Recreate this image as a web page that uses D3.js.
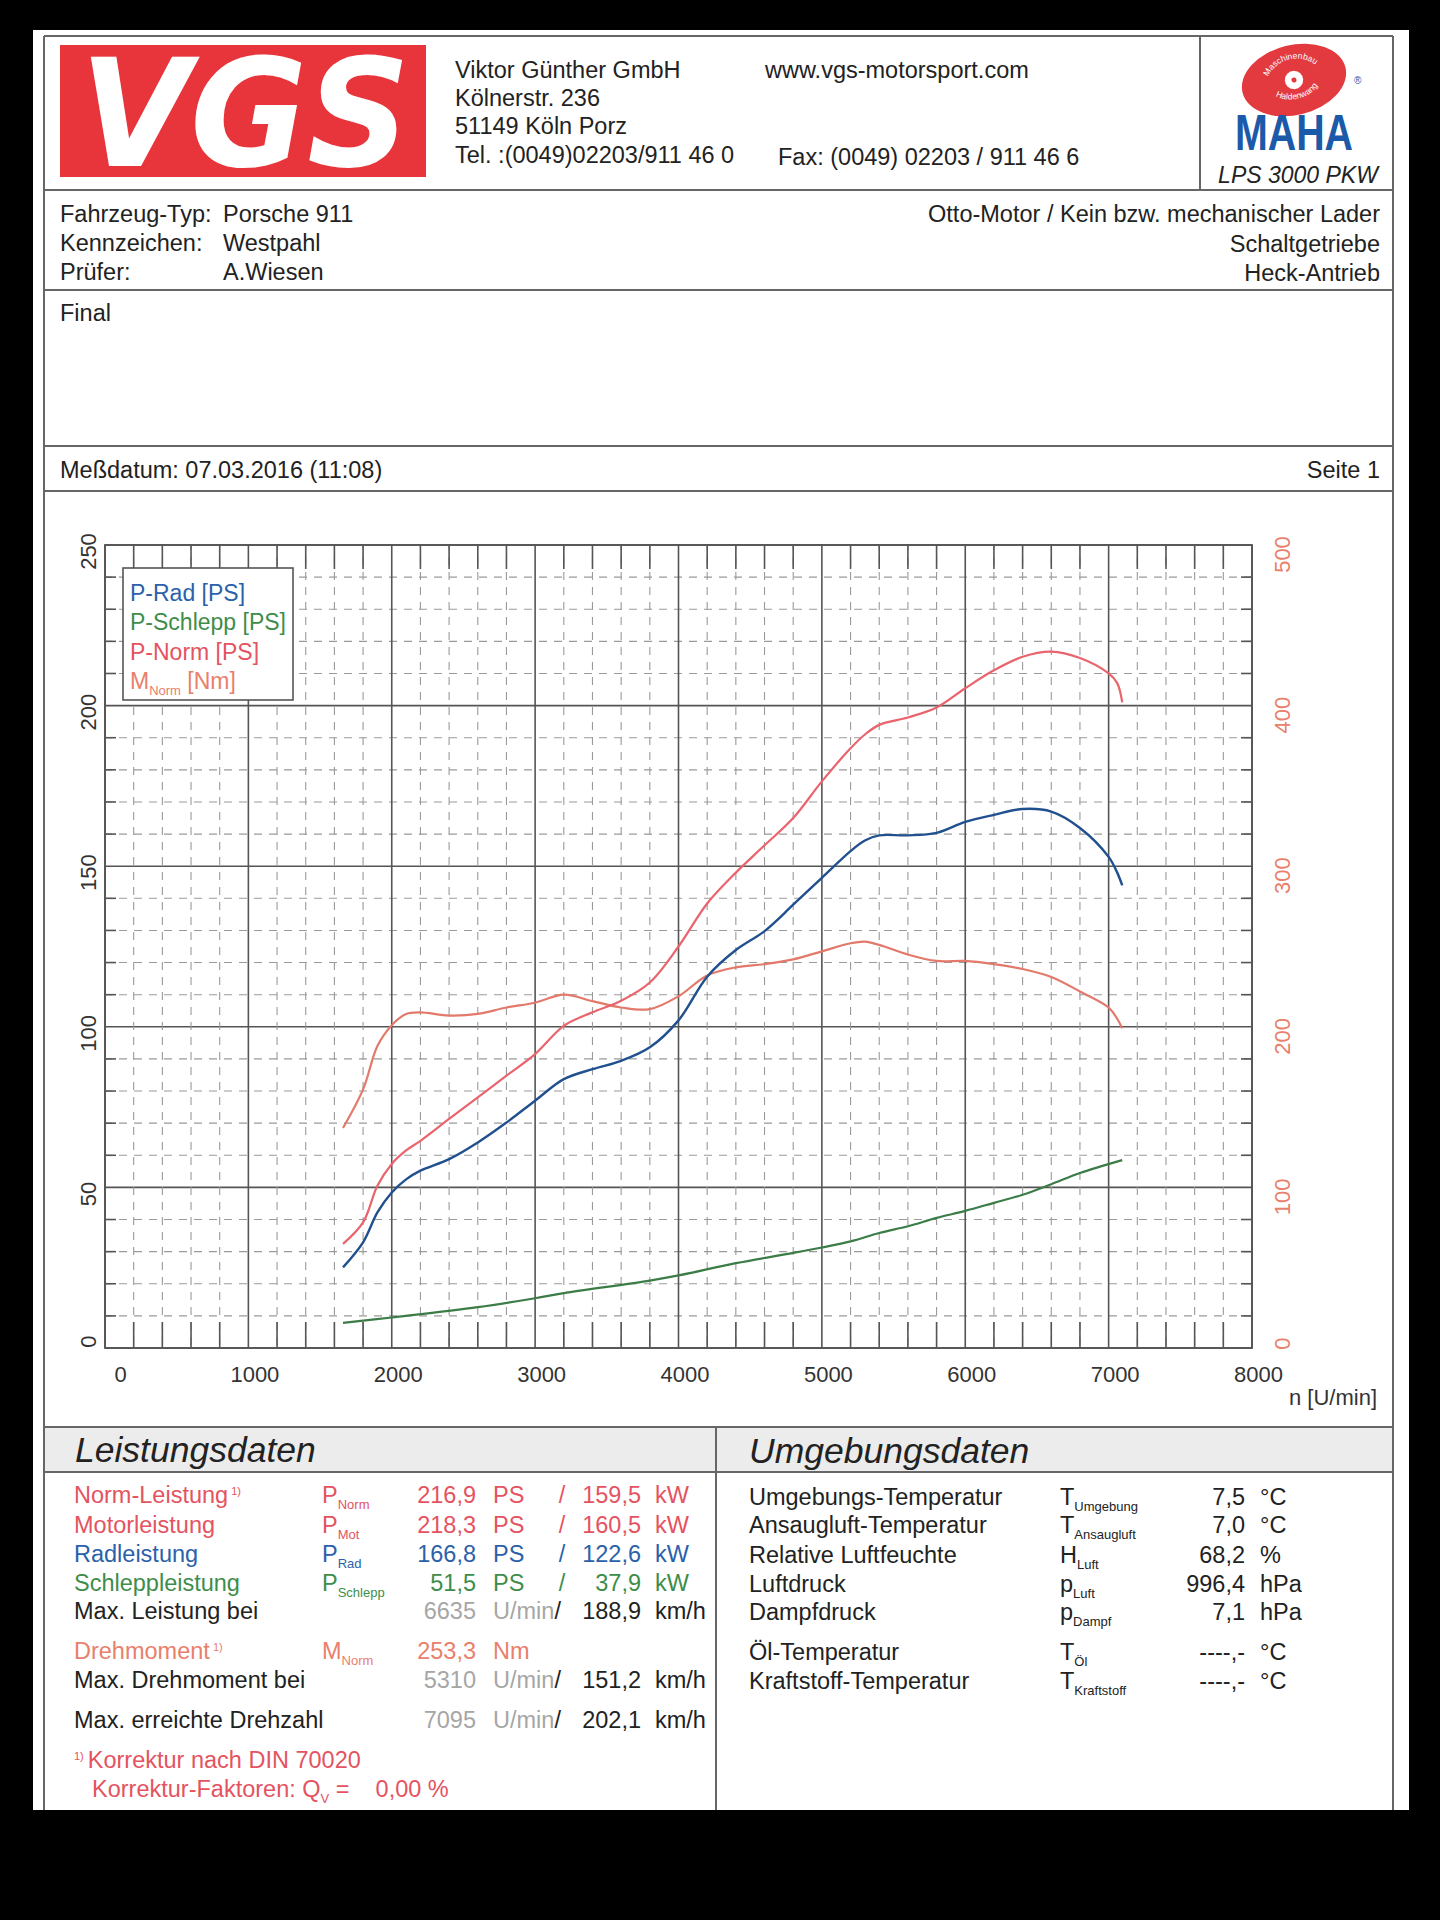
<!DOCTYPE html>
<html><head><meta charset="utf-8">
<script src="https://cdn.jsdelivr.net/npm/d3@7"></script>
<style>
body{margin:0;background:#000}
svg{display:block}
text{font-family:"Liberation Sans",Arial,Helvetica,sans-serif}
</style>
</head><body>
<svg id="c" width="1440" height="1920"></svg>
<script>
// ---------------- DATA ----------------
const rpm   = [1660,1800,1900,2000,2100,2200,2400,2600,2800,3000,3200,3400,3600,3800,4000,4200,4400,4600,4800,5000,5200,5300,5400,5600,5800,6000,6200,6400,6600,6800,7000,7060,7095];
const pRad  = [25.1,32.9,42.2,48.4,52.5,55.2,58.8,64.0,70.2,77.0,83.7,86.8,89.4,93.6,102.0,115.6,123.9,129.8,138.0,146.4,154.7,158.0,159.6,159.6,160.4,163.8,166.0,167.8,167.0,161.9,152.9,148.0,144.0];
const pNorm = [32.4,39.1,50.5,57.3,61.5,64.5,71.3,78.0,84.8,91.5,100.3,104.5,108.1,113.8,125.0,138.4,148.0,156.5,165.0,176.4,186.7,191.0,194.0,196.3,199.4,205.4,211.0,215.2,216.8,214.8,210.0,207.0,201.0];
const mNorm = [137,161,188,201,208,209,207,208,212,215,220,216,212,211,219,232,237,239,242,247,252,253,251,245,241,241,239,236,231,222,212,205,199];
const rpmSchlepp = [1660,2000,2600,3000,3200,3800,4000,4400,4800,5000,5200,5400,5600,5800,6000,6200,6400,6600,6800,7095];
const pSchlepp   = [7.8,9.5,12.7,15.5,17.1,21.0,22.6,26.4,29.6,31.3,33.2,35.8,37.9,40.5,42.7,45.2,47.7,51.0,54.5,58.5];

const xTickValues  = [0,1000,2000,3000,4000,5000,6000,7000,8000];
const yLeftTicks   = [0,50,100,150,200,250];
const yRightTicks  = [0,100,200,300,400,500];
const legendNames  = ["P-Rad [PS]","P-Schlepp [PS]","P-Norm [PS]","M"];

const perfLabels  = ["Norm-Leistung","Motorleistung","Radleistung","Schleppleistung"];
const perfSubs    = ["Norm","Mot","Rad","Schlepp"];
const perfPS      = ["216,9","218,3","166,8","51,5"];
const perfKW      = ["159,5","160,5","122,6","37,9"];
const envLabels   = ["Umgebungs-Temperatur","Ansaugluft-Temperatur","Relative Luftfeuchte","Luftdruck","Dampfdruck","Öl-Temperatur","Kraftstoff-Temperatur"];
const envSymbols  = ["T","T","H","p","p","T","T"];
const envSubs     = ["Umgebung","Ansaugluft","Luft","Luft","Dampf","Öl","Kraftstoff"];
const envValues   = ["7,5","7,0","68,2","996,4","7,1","----,-","----,-"];
const envUnits    = ["°C","°C","%","hPa","hPa","°C","°C"];

// ---------------- COLORS ----------------
const C = {
  red:"#e4535f", blue:"#2b61aa", green:"#3e8d4b", salmon:"#e8806c", gray:"#a6a6a6", ink:"#222",
  lineBlue:"#21508f", lineRed:"#e9646c", lineSalmon:"#e2796a", lineGreen:"#3b7c47",
  grid:"#555", dash:"#9a9a9a", border:"#666"
};
const FS = 23.5;

const svg = d3.select("#c");
// page
svg.append("rect").attr("x",0).attr("y",0).attr("width",1440).attr("height",1920).attr("fill","#000");
svg.append("rect").attr("x",33).attr("y",30).attr("width",1376).attr("height",1780).attr("fill","#fff");

// frame lines
const frame = svg.append("g").attr("stroke",C.border).attr("stroke-width",2).attr("fill","none");
frame.append("line").attr("x1",44).attr("x2",44).attr("y1",36).attr("y2",1810);
frame.append("line").attr("x1",1393).attr("x2",1393).attr("y1",36).attr("y2",1810);
[36,190,290,446,491].forEach(y=>frame.append("line").attr("x1",44).attr("x2",1393).attr("y1",y).attr("y2",y));
frame.append("line").attr("x1",1200).attr("x2",1200).attr("y1",36).attr("y2",190);

function txt(x,y,s,opt={}){
  return svg.append("text").attr("x",x).attr("y",y).text(s)
    .attr("font-size",opt.size||FS).attr("fill",opt.color||C.ink)
    .attr("text-anchor",opt.anchor||"start")
    .attr("font-style",opt.italic?"italic":"normal")
    .attr("font-weight",opt.bold?"bold":"normal");
}
function symSub(x,y,main,sub,color){
  const t = svg.append("text").attr("x",x).attr("y",y).attr("font-size",FS).attr("fill",color);
  t.append("tspan").text(main);
  t.append("tspan").attr("font-size",13).attr("dy",6).text(sub);
  return t;
}

// ---------------- HEADER ----------------
// VGS logo
svg.append("rect").attr("x",60).attr("y",45).attr("width",366).attr("height",132).attr("fill","#e8353b");
svg.append("text").attr("x",80).attr("y",166).text("VGS")
  .attr("font-size",150).attr("font-weight","bold").attr("font-style","italic")
  .attr("fill","#fff").attr("textLength",330).attr("lengthAdjust","spacingAndGlyphs")
  .style("font-family","'DejaVu Sans',sans-serif");

txt(455,78,"Viktor Günther GmbH");
txt(455,106,"Kölnerstr. 236");
txt(455,134,"51149 Köln Porz");
txt(455,163,"Tel. :(0049)02203/911 46 0");
txt(765,78,"www.vgs-motorsport.com");
txt(778,165,"Fax: (0049) 02203 / 911 46 6");

// MAHA logo
const maha = svg.append("g");
maha.append("ellipse").attr("cx",1294).attr("cy",80).attr("rx",53).attr("ry",35)
  .attr("transform","rotate(-14,1294,80)").attr("fill","#e23a3f");
const em = maha.append("g").attr("transform","rotate(-14,1294,80)");
em.append("path").attr("id","arcTop").attr("d","M1265,84 A29,25 0 0 1 1323,84").attr("fill","none");
em.append("path").attr("id","arcBot").attr("d","M1266,78 A28,21 0 0 0 1322,78").attr("fill","none");
em.append("text").attr("font-size",8.5).attr("fill","#fff").append("textPath").attr("href","#arcTop").attr("startOffset","50%").attr("text-anchor","middle").text("Maschinenbau");
em.append("text").attr("font-size",8.5).attr("fill","#fff").append("textPath").attr("href","#arcBot").attr("startOffset","50%").attr("text-anchor","middle").text("Haldenwang");
em.append("circle").attr("cx",1294).attr("cy",80).attr("r",6).attr("fill","#fff");
d3.range(8).forEach(i=>em.append("rect").attr("x",1292).attr("y",71).attr("width",4).attr("height",18)
  .attr("fill","#fff").attr("transform",`rotate(${i*22.5},1294,80)`));
em.append("circle").attr("cx",1294).attr("cy",80).attr("r",2.5).attr("fill","#e23a3f");
maha.append("text").attr("x",1294).attr("y",150).attr("text-anchor","middle").text("MAHA")
  .attr("font-size",50).attr("font-weight","bold").attr("fill","#1b5aa9")
  .attr("textLength",118).attr("lengthAdjust","spacingAndGlyphs");
maha.append("text").attr("x",1354).attr("y",84).attr("font-size",10).attr("fill","#1b5aa9").text("®");
txt(1298,183,"LPS 3000 PKW",{anchor:"middle",italic:true,size:23});

// vehicle rows
txt(60,222,"Fahrzeug-Typ:"); txt(223,222,"Porsche 911");
txt(60,251,"Kennzeichen:");  txt(223,251,"Westpahl");
txt(60,280,"Prüfer:");       txt(223,280,"A.Wiesen");
txt(1380,222,"Otto-Motor / Kein bzw. mechanischer Lader",{anchor:"end"});
txt(1380,252,"Schaltgetriebe",{anchor:"end"});
txt(1380,281,"Heck-Antrieb",{anchor:"end"});
txt(60,321,"Final");
txt(60,478,"Meßdatum: 07.03.2016 (11:08)");
txt(1380,478,"Seite 1",{anchor:"end"});

// ---------------- CHART ----------------
const X0=105, X1=1252, Y0=1348, Y1=545;
const x  = d3.scaleLinear().domain([0,8000]).range([X0,X1]);
const y  = d3.scaleLinear().domain([0,250]).range([Y0,Y1]);
const yR = d3.scaleLinear().domain([0,500]).range([Y0,Y1]);

const grid = svg.append("g");
// horizontal grid (every 10 PS)
d3.range(0,251,10).forEach(v=>{
  const yy = y(v);
  if(v%50===0){
    grid.append("line").attr("x1",X0).attr("x2",X1).attr("y1",yy).attr("y2",yy).attr("stroke",C.grid).attr("stroke-width",1.6);
  } else {
    grid.append("line").attr("x1",X0).attr("x2",X1).attr("y1",yy).attr("y2",yy).attr("stroke",C.dash).attr("stroke-width",1.1).attr("stroke-dasharray","8,7").attr("stroke-dashoffset",-14);
    grid.append("line").attr("x1",X0).attr("x2",X0+11).attr("y1",yy).attr("y2",yy).attr("stroke",C.grid).attr("stroke-width",1.6);
    grid.append("line").attr("x1",X1-11).attr("x2",X1).attr("y1",yy).attr("y2",yy).attr("stroke",C.grid).attr("stroke-width",1.6);
  }
});
// vertical grid (every 200 rpm)
d3.range(0,8001,200).forEach(v=>{
  const xx = x(v);
  if(v%1000===0){
    grid.append("line").attr("x1",xx).attr("x2",xx).attr("y1",Y1).attr("y2",Y0).attr("stroke",C.grid).attr("stroke-width",1.6);
  } else {
    grid.append("line").attr("x1",xx).attr("x2",xx).attr("y1",Y1).attr("y2",Y0).attr("stroke",C.dash).attr("stroke-width",1.1).attr("stroke-dasharray","8,7").attr("stroke-dashoffset",-12);
    grid.append("line").attr("x1",xx).attr("x2",xx).attr("y1",Y1).attr("y2",Y1+24).attr("stroke",C.grid).attr("stroke-width",1.6);
    grid.append("line").attr("x1",xx).attr("x2",xx).attr("y1",Y0-26).attr("y2",Y0).attr("stroke",C.grid).attr("stroke-width",1.6);
  }
});
grid.append("rect").attr("x",X0).attr("y",Y1).attr("width",X1-X0).attr("height",Y0-Y1)
  .attr("fill","none").attr("stroke",C.grid).attr("stroke-width",1.8);

// axes (labels only)
const axB = svg.append("g").attr("transform",`translate(0,${Y0})`)
  .call(d3.axisBottom(x).tickValues(xTickValues).tickSize(0).tickFormat(d3.format("d")));
axB.select(".domain").remove();
axB.selectAll("text").attr("font-size",22).attr("fill","#333").attr("y",26).attr("dy","0.35em")
  .attr("x",d=>d===0?15:6).style("font-family","'Liberation Sans',Arial,sans-serif");

const axL = svg.append("g").attr("transform",`translate(${X0},0)`)
  .call(d3.axisLeft(y).tickValues(yLeftTicks).tickSize(0));
axL.select(".domain").remove();
axL.selectAll("text").attr("font-size",22).attr("fill","#333")
  .attr("transform","rotate(-90)").attr("text-anchor","middle")
  .attr("x",d=>d===0?7:-6).attr("y",-17).attr("dy","0.35em")
  .style("font-family","'Liberation Sans',Arial,sans-serif");

const axR = svg.append("g").attr("transform",`translate(${X1},0)`)
  .call(d3.axisRight(yR).tickValues(yRightTicks).tickSize(0));
axR.select(".domain").remove();
axR.selectAll("text").attr("font-size",22).attr("fill",C.salmon)
  .attr("transform","rotate(-90)").attr("text-anchor","middle")
  .attr("x",d=>d===0?5:-9).attr("y",30).attr("dy","0.35em")
  .style("font-family","'Liberation Sans',Arial,sans-serif");

txt(1377,1405,"n [U/min]",{anchor:"end",size:22,color:"#333"});

// curves
const curve = d3.curveCatmullRom.alpha(0.5);
const lineL = d3.line().x(d=>x(d[0])).y(d=>y(d[1])).curve(curve);
const lineR = d3.line().x(d=>x(d[0])).y(d=>yR(d[1])).curve(curve);
const plot = svg.append("g");
plot.append("path").attr("d",lineL(d3.zip(rpmSchlepp,pSchlepp))).attr("fill","none").attr("stroke",C.lineGreen).attr("stroke-width",2.2);
plot.append("path").attr("d",lineR(d3.zip(rpm,mNorm))).attr("fill","none").attr("stroke",C.lineSalmon).attr("stroke-width",2.2);
plot.append("path").attr("d",lineL(d3.zip(rpm,pNorm))).attr("fill","none").attr("stroke",C.lineRed).attr("stroke-width",2.2);
plot.append("path").attr("d",lineL(d3.zip(rpm,pRad))).attr("fill","none").attr("stroke",C.lineBlue).attr("stroke-width",2.4);

// legend
svg.append("rect").attr("x",123).attr("y",568).attr("width",170).attr("height",132)
  .attr("fill","#fff").attr("stroke","#555").attr("stroke-width",1.6);
const legColors=[C.blue,C.green,C.red,C.salmon];
legendNames.forEach((n,i)=>{
  const t = svg.append("text").attr("x",130).attr("y",601+i*29.3).attr("font-size",23).attr("fill",legColors[i]);
  t.append("tspan").text(n);
  if(n==="M"){
    t.append("tspan").attr("font-size",13).attr("dy",6).text("Norm");
    t.append("tspan").attr("dy",-6).text(" [Nm]");
  }
});

// ---------------- TABLES ----------------
svg.append("rect").attr("x",44).attr("y",1427).attr("width",1349).attr("height",45).attr("fill","#ececec");
[1427,1472].forEach(yy=>frame.append("line").attr("x1",44).attr("x2",1393).attr("y1",yy).attr("y2",yy));
frame.append("line").attr("x1",716).attr("x2",716).attr("y1",1427).attr("y2",1810);
frame.raise();
txt(75,1462,"Leistungsdaten",{italic:true,size:35.5});
txt(749,1463,"Umgebungsdaten",{italic:true,size:35.5});

const perfY=[1503,1533,1562,1591];
const perfCol=[C.red,C.red,C.blue,C.green];
perfLabels.forEach((l,i)=>{
  const t = txt(74,perfY[i],l,{color:perfCol[i]});
  if(i===0){ t.append("tspan").attr("font-size",11).attr("dy",-8).text("\u00a01)"); }
  symSub(322,perfY[i],"P",perfSubs[i],perfCol[i]);
  txt(476,perfY[i],perfPS[i],{anchor:"end",color:perfCol[i]});
  txt(493,perfY[i],"PS",{color:perfCol[i]});
  txt(562,perfY[i],"/",{anchor:"middle",color:perfCol[i]});
  txt(641,perfY[i],perfKW[i],{anchor:"end",color:perfCol[i]});
  txt(655,perfY[i],"kW",{color:perfCol[i]});
});
function rpmRow(yy,label,rv,kmh){
  txt(74,yy,label);
  txt(476,yy,rv,{anchor:"end",color:C.gray});
  const t = svg.append("text").attr("x",493).attr("y",yy).attr("font-size",FS);
  t.append("tspan").attr("fill",C.gray).text("U/min");
  t.append("tspan").attr("fill",C.ink).text("/");
  txt(641,yy,kmh,{anchor:"end"});
  txt(655,yy,"km/h");
}
rpmRow(1619,"Max. Leistung bei","6635","188,9");
const dm = txt(74,1659,"Drehmoment",{color:C.salmon});
dm.append("tspan").attr("font-size",11).attr("dy",-8).text("\u00a01)");
symSub(322,1659,"M","Norm",C.salmon);
txt(476,1659,"253,3",{anchor:"end",color:C.salmon});
txt(493,1659,"Nm",{color:C.salmon});
rpmRow(1688,"Max. Drehmoment bei","5310","151,2");
rpmRow(1728,"Max. erreichte Drehzahl","7095","202,1");
const k1 = svg.append("text").attr("x",74).attr("y",1768).attr("font-size",FS).attr("fill",C.red);
k1.append("tspan").attr("font-size",11).attr("dy",-8).text("1)");
k1.append("tspan").attr("dy",8).attr("dx",4).text("Korrektur nach DIN 70020");
const k2 = svg.append("text").attr("x",92).attr("y",1797).attr("font-size",FS).attr("fill",C.red);
k2.append("tspan").text("Korrektur-Faktoren: Q");
k2.append("tspan").attr("font-size",13).attr("dy",6).text("V");
k2.append("tspan").attr("dy",-6).text("\u00a0=\u00a0\u00a0\u00a0\u00a00,00 %");

const envY=[1505,1533,1563,1592,1620,1660,1689];
envLabels.forEach((l,i)=>{
  txt(749,envY[i],l);
  symSub(1060,envY[i],envSymbols[i],envSubs[i],C.ink);
  txt(1245,envY[i],envValues[i],{anchor:"end"});
  txt(1260,envY[i],envUnits[i]);
});
</script>
</body></html>
